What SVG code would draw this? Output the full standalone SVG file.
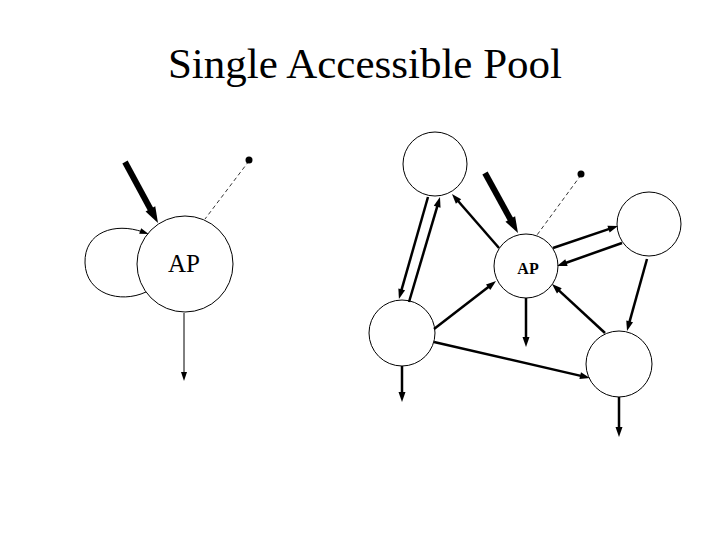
<svg xmlns="http://www.w3.org/2000/svg" width="720" height="540" viewBox="0 0 720 540">
<defs>
<marker id="ah" markerUnits="userSpaceOnUse" markerWidth="10" markerHeight="8" refX="4" refY="3.5" orient="auto" overflow="visible"><path d="M0,0 L10,3.5 L0,7 z" fill="#000"/></marker>
<marker id="ahThin" markerUnits="userSpaceOnUse" markerWidth="9" markerHeight="7" refX="3" refY="3" orient="auto" overflow="visible"><path d="M0,0 L9,3 L0,6 z" fill="#000"/></marker>
<marker id="ahBig" markerUnits="userSpaceOnUse" markerWidth="16" markerHeight="11" refX="4" refY="5.5" orient="auto" overflow="visible"><path d="M0,0 L16,5.5 L0,11 z" fill="#000"/></marker>
</defs>
<style>
.node{fill:#fff;stroke:#000;stroke-width:1}
.edge{fill:none;stroke:#000;stroke-width:2.5;marker-end:url(#ah)}
.thin{fill:none;stroke:#000;stroke-width:1;marker-end:url(#ahThin)}
.big{fill:none;stroke:#000;stroke-width:6;marker-end:url(#ahBig)}
.dash{fill:none;stroke:#000;stroke-width:0.8;stroke-dasharray:4 3}
.dot{fill:#000}
.t{fill:#000;text-anchor:middle}
</style>
<rect width="720" height="540" fill="#fff"/>
<text class="t" x="365" y="78" font-family="'Liberation Serif', serif" font-size="43">Single Accessible Pool</text>

<g id="left-ap">
<circle class="node" cx="185" cy="264" r="48"/>
<text class="t" x="184" y="272" font-family="'Liberation Serif', serif" font-size="25">AP</text>
</g>
<g id="right-top"><circle class="node" cx="435" cy="164" r="32"/></g>
<g id="right-ap">
<circle class="node" cx="526" cy="266" r="32"/>
<text class="t" x="528" y="274" font-family="'Liberation Serif', serif" font-size="16" font-weight="bold">AP</text>
</g>
<g id="right-upper-right"><circle class="node" cx="649" cy="224" r="32"/></g>
<g id="right-lower-left"><circle class="node" cx="402" cy="333" r="33"/></g>
<g id="right-lower-right"><circle class="node" cx="619" cy="364" r="33"/></g>

<g id="connectors">
<path class="thin" d="M146,292 C120,304 86,294 85,263 C84,232 115,222 143,232"/>
<line class="thin" x1="184" y1="313" x2="184" y2="375"/>
<line class="big" x1="125" y1="162" x2="152.3" y2="212.5"/>
<line class="dash" x1="249" y1="161" x2="205" y2="219"/>
<circle class="dot" cx="249" cy="160" r="3.5"/>

<line class="big" x1="485" y1="173" x2="512.2" y2="222.5"/>
<line class="dash" x1="581" y1="175" x2="537" y2="235"/>
<circle class="dot" cx="581" cy="174" r="3.5"/>

<line class="edge" x1="428" y1="197" x2="400.6" y2="293.2"/>
<line class="edge" x1="409" y1="302" x2="438.3" y2="202.8"/>
<line class="edge" x1="499" y1="248" x2="455.9" y2="198.5"/>
<line class="edge" x1="434" y1="329" x2="491.3" y2="284.7"/>
<line class="edge" x1="553" y1="248" x2="612.3" y2="227.9"/>
<line class="edge" x1="622" y1="243" x2="562.7" y2="264"/>
<line class="edge" x1="605" y1="333" x2="556.4" y2="288.1"/>
<line class="edge" x1="647" y1="259" x2="628.6" y2="325.2"/>
<line class="edge" x1="434" y1="342" x2="584.1" y2="376.6"/>
<line class="edge" x1="526" y1="298" x2="526" y2="341"/>
<line class="edge" x1="402" y1="366" x2="402" y2="396"/>
<line class="edge" x1="619" y1="397" x2="619" y2="431"/>
</g>
</svg>
